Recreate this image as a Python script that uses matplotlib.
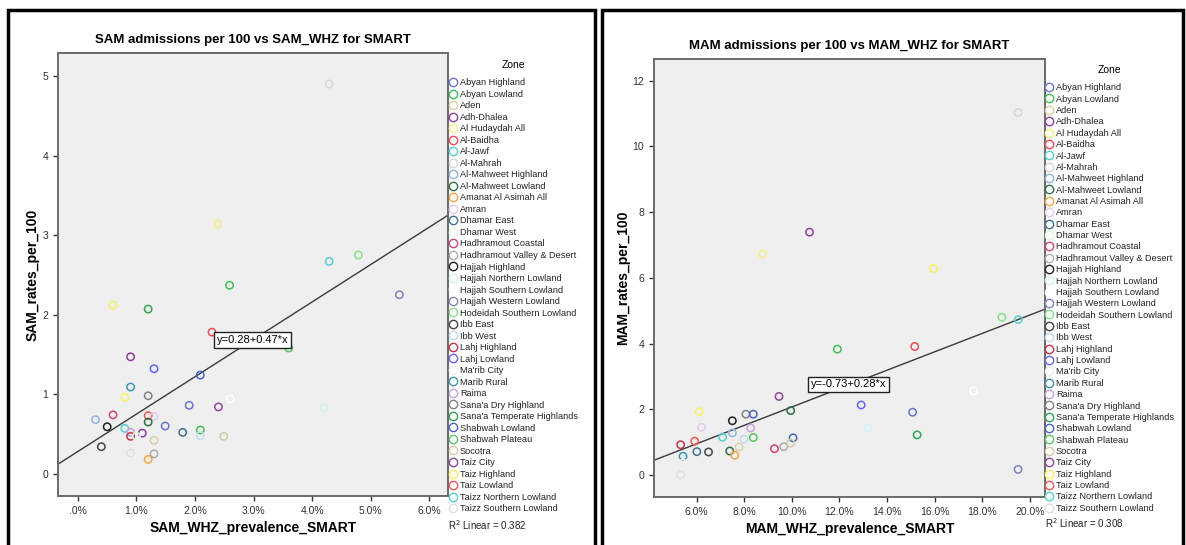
import matplotlib
matplotlib.use("Agg")
import matplotlib.pyplot as plt
from matplotlib.lines import Line2D
from matplotlib.patches import Rectangle

plt.rcParams["font.family"] = ["Liberation Sans", "DejaVu Sans"]

# ── 1. Data ────────────────────────────────────────────────────────────────
zones = [
    "Abyan Highland", "Abyan Lowland", "Aden", "Adh-Dhalea", "Al Hudaydah All",
    "Al-Baidha", "Al-Jawf", "Al-Mahrah", "Al-Mahweet Highland",
    "Al-Mahweet Lowland", "Amanat Al Asimah All", "Amran", "Dhamar East",
    "Dhamar West", "Hadhramout Coastal", "Hadhramout Valley & Desert",
    "Hajjah Highland", "Hajjah Northern Lowland", "Hajjah Southern Lowland",
    "Hajjah Western Lowland", "Hodeidah Southern Lowland", "Ibb East",
    "Ibb West", "Lahj Highland", "Lahj Lowland", "Ma'rib City", "Marib Rural",
    "Raima", "Sana'a Dry Highland", "Sana'a Temperate Highlands",
    "Shabwah Lowland", "Shabwah Plateau", "Socotra", "Taiz City",
    "Taiz Highland", "Taiz Lowland", "Taizz Northern Lowland",
    "Taizz Southern Lowland",
]
zone_colors = [
    "#6a74cc", "#3fbf55", "#d9d0a8", "#8e3f9e", "#f6ee82", "#ef4a55",
    "#55cfd2", "#d6d6d6", "#93b3e2", "#2f6e45", "#f3a545", "#e2caf1",
    "#3f6f8f", "#e2f7e2", "#d0457a", "#ababab", "#1f1f1f", "#d2f1f1",
    "#ffffff", "#8080c4", "#85e08a", "#444444", "#c3daf2", "#c23446",
    "#6464ef", "#efefef", "#3f93b5", "#c4a5d9", "#818181", "#2fa457",
    "#4764c4", "#58c565", "#d4cca4", "#93449f", "#f8f166", "#f05555",
    "#55d0d3", "#e0e0e0",
]

# SAM panel (x in %, y = admissions per 100), zone index per point
sam_x = [4.29, 2.39, 4.29, 4.79, 2.59, 5.49, 0.60, 1.20, 2.29, 3.60, 0.90,
         1.30, 2.09, 0.90, 0.80, 1.20, 2.60, 4.20, 1.90, 2.40, 0.30, 0.60,
         1.20, 1.30, 1.20, 0.50, 0.80, 1.49, 1.79, 2.09, 2.09, 2.49, 0.90,
         0.90, 1.10, 1.00, 1.30, 0.40, 0.90, 0.90, 1.30, 1.20]
sam_y = [4.90, 3.14, 2.67, 2.75, 2.37, 2.25, 2.12, 2.07, 1.78, 1.58, 1.47,
         1.32, 1.24, 1.09, 0.96, 0.98, 0.94, 0.83, 0.86, 0.84, 0.68, 0.74,
         0.73, 0.72, 0.65, 0.59, 0.57, 0.60, 0.52, 0.55, 0.48, 0.47, 0.52,
         0.47, 0.51, 0.47, 0.42, 0.34, 0.30, 0.26, 0.25, 0.18]
sam_zone = [7, 4, 6, 20, 1, 19, 34, 29, 5, 31, 3,
            24, 30, 26, 34, 28, 18, 17, 0, 33, 8, 14,
            35, 11, 9, 16, 36, 0, 12, 1, 22, 32, 27,
            23, 3, 13, 2, 21, 25, 37, 15, 10]
sam_fit = (0.28, 0.47)
sam_r2 = 0.382

# MAM panel
mam_x = [19.50, 10.74, 8.77, 15.95, 18.82, 19.51, 11.91, 15.16, 17.63, 9.46,
         12.91, 15.07, 6.11, 7.50, 8.07, 8.38, 9.95, 6.21, 8.27, 13.20,
         7.50, 7.09, 8.38, 7.99, 10.05, 15.26, 5.33, 5.92, 7.78, 9.66,
         9.95, 9.27, 5.43, 6.01, 6.50, 7.39, 7.60, 5.43, 5.33, 19.50]
mam_y = [11.03, 7.39, 6.72, 6.28, 4.80, 4.73, 3.83, 3.91, 2.56, 2.39,
         2.13, 1.91, 1.93, 1.65, 1.85, 1.85, 1.96, 1.45, 1.43, 1.43,
         1.28, 1.15, 1.14, 1.09, 1.13, 1.22, 0.92, 1.03, 0.85, 0.86,
         0.97, 0.80, 0.57, 0.71, 0.70, 0.73, 0.60, 0.36, 0.00, 0.17]
mam_zone = [7, 3, 4, 34, 20, 6, 1, 5, 18, 33,
            24, 0, 34, 16, 28, 30, 9, 11, 27, 17,
            8, 36, 31, 22, 30, 29, 23, 35, 2, 15,
            32, 14, 26, 12, 21, 9, 10, 25, 37, 19]
mam_fit = (-0.73, 0.28)
mam_r2 = 0.308

# ── 2. Figure & panel frames ───────────────────────────────────────────────
W, H = 1186, 545
fig = plt.figure(figsize=(W / 100, H / 100), dpi=100)

def fbox(x0, y0, x1, y1):
    return [x0 / W, 1 - y1 / H, (x1 - x0) / W, (y1 - y0) / H]

for x0, x1 in [(8, 595), (602, 1183)]:
    fig.patches.append(Rectangle((x0 / W, -0.05), (x1 - x0) / W, 1.05 - 10 / H,
                                 transform=fig.transFigure, fill=False,
                                 edgecolor="black", linewidth=2.5))

ax1 = fig.add_axes(fbox(58, 53, 448, 496))
ax2 = fig.add_axes(fbox(654, 59, 1045, 497))


def draw_panel(ax, xs, ys, zidx, fit, xlim, ylim, xticks, yticks,
               title, xlabel, ylabel, eq_pos, eq_text):
    ax.set_facecolor("#efefef")
    for s in ax.spines.values():
        s.set_color("#6a6a6a")
        s.set_linewidth(1.4)
    ax.scatter(xs, ys, s=28, facecolors="none",
               edgecolors=[zone_colors[i] for i in zidx], linewidths=1.1,
               zorder=3)
    a, b = fit
    ax.plot(xlim, [a + b * xlim[0], a + b * xlim[1]], color="#3a3a3a",
            linewidth=1.0, zorder=2)
    ax.text(eq_pos[0], eq_pos[1], eq_text, fontsize=8, ha="center",
            va="center", zorder=4,
            bbox=dict(boxstyle="square,pad=0.25", fc="white", ec="#222222",
                      lw=1.0))
    ax.set_xlim(xlim)
    ax.set_ylim(ylim)
    ax.set_xticks(xticks)
    ax.set_xticklabels([(f"{t:.1f}%" if t else ".0%") for t in xticks])
    ax.set_yticks(yticks)
    ax.tick_params(labelsize=7.5, colors="#333333", length=3.5, width=1.0)
    ax.set_title(title, fontsize=9.5, fontweight="bold", pad=7)
    ax.set_xlabel(xlabel, fontsize=10, fontweight="bold", labelpad=4)
    ax.set_ylabel(ylabel, fontsize=10, fontweight="bold", labelpad=2)


draw_panel(ax1, sam_x, sam_y, sam_zone, sam_fit, (-0.34, 6.32), (-0.28, 5.29),
           [0, 1, 2, 3, 4, 5, 6], [0, 1, 2, 3, 4, 5],
           "SAM admissions per 100 vs SAM_WHZ for SMART",
           "SAM_WHZ_prevalence_SMART", "SAM_rates_per_100",
           (2.98, 1.68), "y=0.28+0.47*x")
draw_panel(ax2, mam_x, mam_y, mam_zone, mam_fit, (4.21, 20.63), (-0.67, 12.66),
           [6, 8, 10, 12, 14, 16, 18, 20], [0, 2, 4, 6, 8, 10, 12],
           "MAM admissions per 100 vs MAM_WHZ for SMART",
           "MAM_WHZ_prevalence_SMART", "MAM_rates_per_100",
           (12.39, 2.76), "y=-0.73+0.28*x")

# ── 3. Legends ─────────────────────────────────────────────────────────────
handles = [Line2D([], [], marker="o", linestyle="none", markersize=6,
                  markerfacecolor="none", markeredgecolor=c,
                  markeredgewidth=1.0) for c in zone_colors]

for ax, (lx, ly), (rx, ry), r2, sp in [
        (ax1, (448, 60), (448, 525), sam_r2, 0.274),
        (ax2, (1044, 65), (1045, 523), mam_r2, 0.258)]:
    leg = ax.legend(handles, zones, title="Zone", loc="upper left",
                    bbox_to_anchor=(lx / W, 1 - ly / H),
                    bbox_transform=fig.transFigure, frameon=False,
                    fontsize=6.6, title_fontsize=7.5, labelspacing=sp,
                    handlelength=1.0, handletextpad=0.3, borderpad=0,
                    borderaxespad=0)
    leg._legend_box.align = "center"
    leg._legend_box.sep = 6
    for t in leg.get_texts():
        t.set_color("#222222")
    fig.text(rx / W, 1 - ry / H, "R$^2$ Linear = %.3f" % r2, fontsize=7,
             va="center", color="#222222")

plt.savefig("out.png", dpi=100)
